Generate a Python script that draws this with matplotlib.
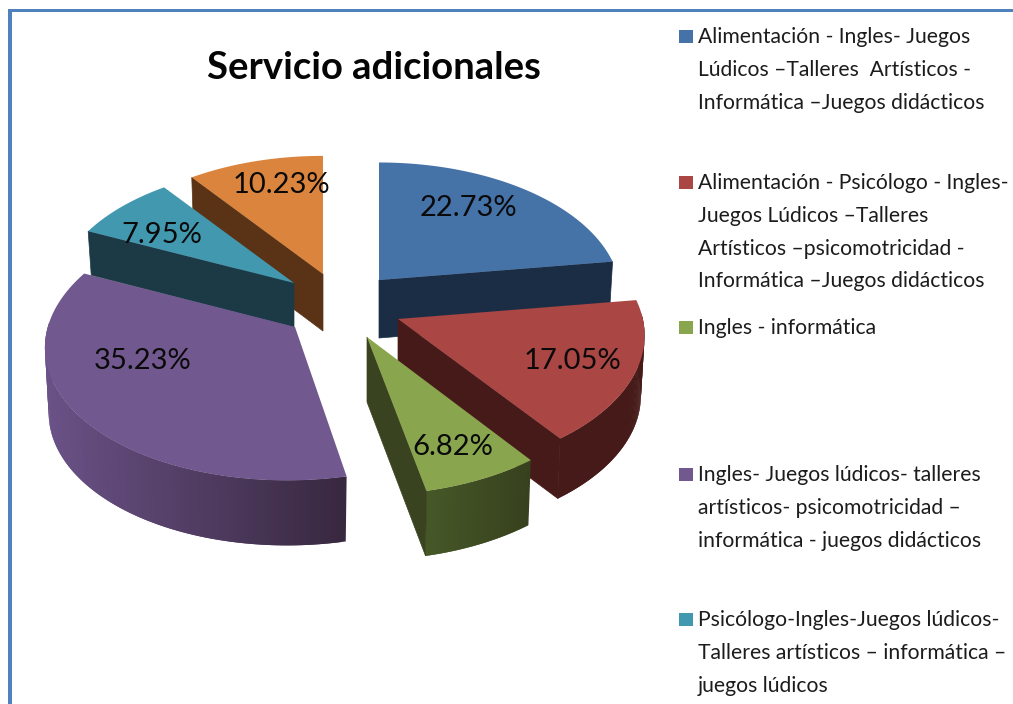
import numpy as np
import matplotlib
matplotlib.use("Agg")
import matplotlib.pyplot as plt
from matplotlib.patches import Polygon, Rectangle
from matplotlib.colors import to_rgb

plt.rcParams['font.family'] = ['Lato', 'DejaVu Sans']

# ---- data ----
title = "Servicio adicionales"
values = [22.73, 17.05, 6.82, 35.23, 7.95, 10.23]
legend_lines = [
    ["Alimentación - Ingles- Juegos", "Lúdicos –Talleres  Artísticos -", "Informática –Juegos didácticos"],
    ["Alimentación - Psicólogo - Ingles-", "Juegos Lúdicos –Talleres", "Artísticos –psicomotricidad -", "Informática –Juegos didácticos"],
    ["Ingles - informática"],
    ["Ingles- Juegos lúdicos- talleres", "artísticos- psicomotricidad –", "informática - juegos didácticos"],
    ["Psicólogo-Ingles-Juegos lúdicos-", "Talleres artísticos – informática –", "juegos lúdicos"],
]

# ---- style / layout ----
top_colors = ['#4572a7', '#aa4643', '#89a54e', '#71588f', '#4198af', '#db843d']
side_colors = ['#1b2d45', '#451a18', '#39431f', '#3b2a48', '#1b3a46', '#5a3317']
wall_light = ['#1b2d45', '#451a18', '#465828', '#6a5287', '#1b3a46', '#5a3317']
wall_dark = ['#1b2d45', '#451a18', '#37411d', '#38283f', '#1b3a46', '#5a3317']
apex_xy = [(379, 280), (398, 319), (367, 337), (295, 327), (294, 283), (323, 274)]
depths = [58, 60, 65, 65, 44, 57]
rx_scale = [1.0, 1.02, 1.03, 1.03, 0.99, 1.0]
ry_scale = [0.975, 1.0, 1.03, 1.0, 0.97, 0.98]
x_skew = [0, 0, 0, 8, 0, 0]
label_xy = [(468, 208), (572, 361), (453, 447), (143, 361), (162, 235), (281, 185)]
paint_order = [5, 4, 0, 3, 1, 2]
legend_first_y = [37, 183, 328, 475, 620]
RX, RY, K = 240.0, 135.0, 0.12
BORDER = '#4f81bd'

fig = plt.figure(figsize=(10.13, 7.04), dpi=100, facecolor='white')
ax = fig.add_axes([0, 0, 1, 1])
ax.set_xlim(0, 1013)
ax.set_ylim(704, 0)
ax.axis('off')

ax.add_patch(Rectangle((8, 9), 1005, 3, fc=BORDER, ec='none', zorder=1))
ax.add_patch(Rectangle((8, 9), 4, 695, fc=BORDER, ec='none', zorder=1))


def project(theta, i, drop=0.0, shrink=1.0):
    apex = apex_xy[i]
    s, c = np.sin(theta), np.cos(theta)
    p = 1.0 / (1.0 + K * c)
    return np.column_stack([apex[0] + RX * rx_scale[i] * shrink * s * p + x_skew[i] * c,
                            apex[1] - RY * ry_scale[i] * c * p + drop])


def mix(a, b, t):
    a, b = np.array(to_rgb(a)), np.array(to_rgb(b))
    return tuple(a + (b - a) * t)


edges = np.deg2rad(np.cumsum([0] + values) * 360.0 / sum(values))
z = 2
for i in paint_order:
    a0, a1 = edges[i], edges[i + 1]
    apex = apex_xy[i]
    d = depths[i]
    th = np.linspace(a0, a1, 120)
    top = project(th, i)
    bot = project(th, i, d, 0.985)
    apex_low = (apex[0], apex[1] + d)

    # outer curved wall with a left-to-right shade (segments overlap to hide seams)
    xmin, xmax = top[:, 0].min(), top[:, 0].max()
    order = np.where(np.cos(th) < 0.05)[0]
    if len(order) > 1:
        for j in order[:-1]:
            j2 = min(j + 2, order[-1])
            t = (top[j, 0] - xmin) / max(xmax - xmin, 1)
            col = mix(wall_light[i], wall_dark[i], t)
            ax.add_patch(Polygon([top[j], top[j2], bot[j2], bot[j]], closed=True,
                                 fc=col, ec='none', zorder=z))
            z += 1
    # radial side walls (only the ones turned towards the viewer)
    if np.sin(a0) < -1e-6:
        ax.add_patch(Polygon([apex, top[0], bot[0], apex_low], closed=True,
                             fc=side_colors[i], ec=side_colors[i], lw=0.5, zorder=z))
    if np.sin(a1) > 1e-6:
        ax.add_patch(Polygon([apex, top[-1], bot[-1], apex_low], closed=True,
                             fc=side_colors[i], ec=side_colors[i], lw=0.5, zorder=z))
    z += 1
    # top face
    ax.add_patch(Polygon(np.vstack([[apex], top]), closed=True, fc=top_colors[i], ec='none', zorder=z))
    z += 1

ztext = z + 10
for v, (x, y) in zip(values, label_xy):
    ax.text(x, y, f"{v:.2f}%", ha='center', va='center', fontsize=21, color='#0a0a0a', zorder=ztext)

ax.text(374, 68, title, ha='center', va='center', fontsize=27.5, fontweight='bold', color='#050505', zorder=ztext)

for lines, y0, col in zip(legend_lines, legend_first_y, top_colors):
    ax.add_patch(Rectangle((679, y0 - 7.5), 13.5, 13.5, fc=col, ec='none', zorder=ztext))
    for n, line in enumerate(lines):
        ax.text(698, y0 + n * 32.8, line, ha='left', va='center', fontsize=15.2, color='#1c1c1c', zorder=ztext)

fig.savefig('out.png', dpi=100, facecolor='white')
